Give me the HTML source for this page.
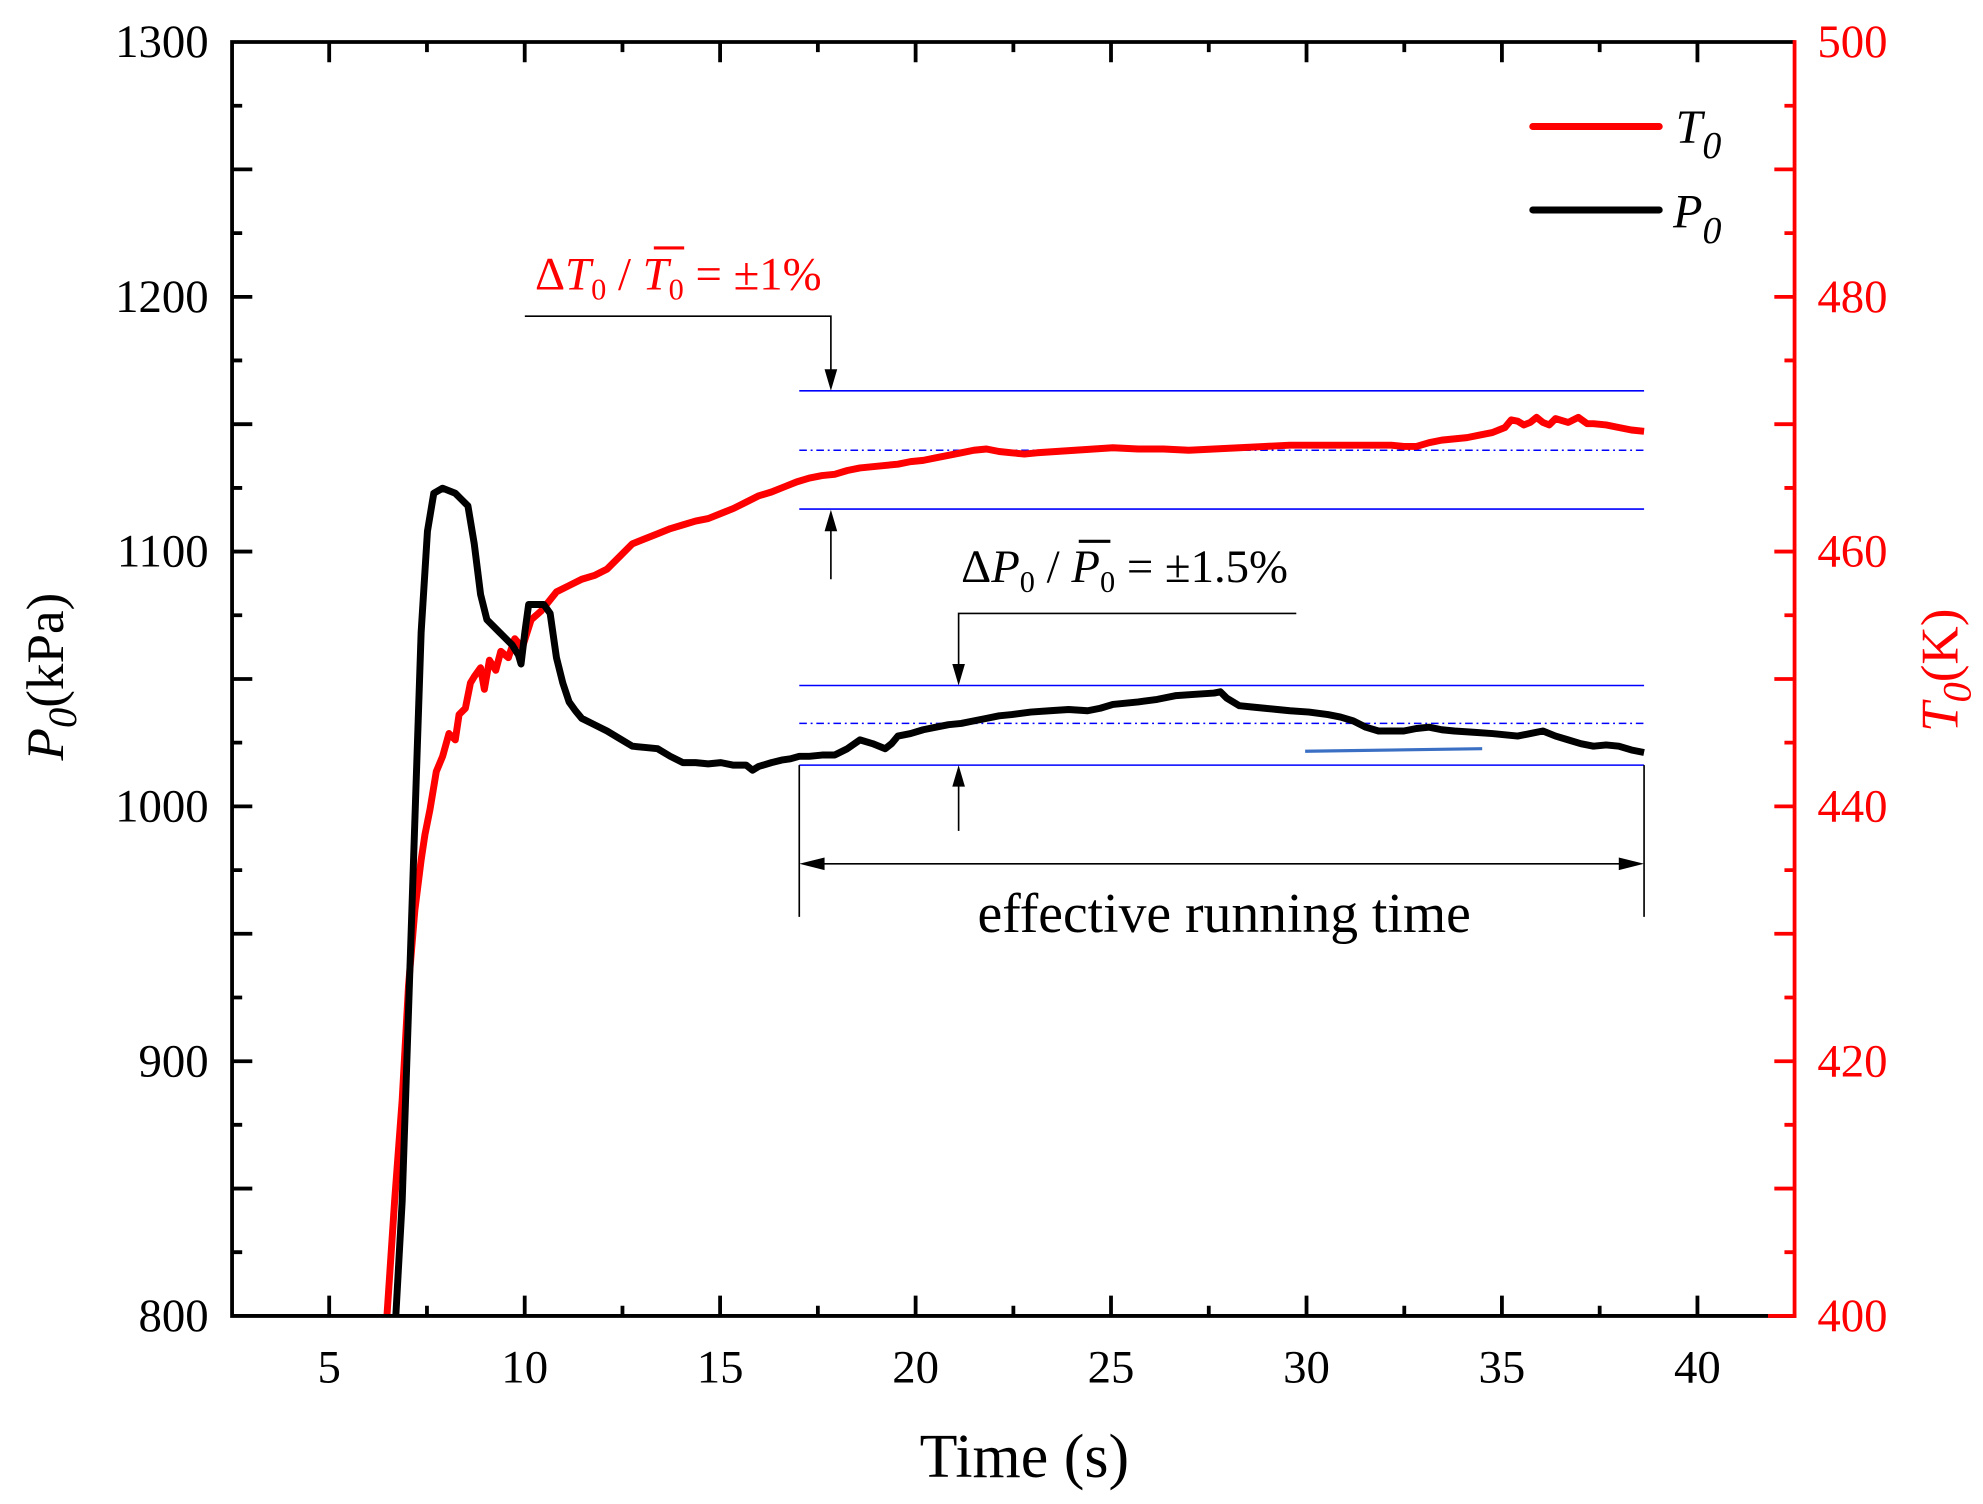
<!DOCTYPE html>
<html><head><meta charset="utf-8"><style>html,body{margin:0;padding:0;background:#fff}svg{display:block}</style></head>
<body>
<svg width="1983" height="1504" viewBox="0 0 1568 1189.2" xmlns="http://www.w3.org/2000/svg" font-family="Liberation Serif, serif">
<path fill="none" stroke="#000" stroke-width="3" d="
M260.3,1040.5v-16 M414.9,1040.5v-16 M569.4,1040.5v-16 M724,1040.5v-16 M878.5,1040.5v-16 M1033.1,1040.5v-16 M1187.6,1040.5v-16 M1342.2,1040.5v-16
M337.6,1040.5v-8 M492.2,1040.5v-8 M646.7,1040.5v-8 M801.3,1040.5v-8 M955.8,1040.5v-8 M1110.4,1040.5v-8 M1264.9,1040.5v-8
M260.3,33.2v16 M414.9,33.2v16 M569.4,33.2v16 M724,33.2v16 M878.5,33.2v16 M1033.1,33.2v16 M1187.6,33.2v16 M1342.2,33.2v16
M337.6,33.2v8 M492.2,33.2v8 M646.7,33.2v8 M801.3,33.2v8 M955.8,33.2v8 M1110.4,33.2v8 M1264.9,33.2v8
M183.5,939.8h16 M183.5,839.1h16 M183.5,738.3h16 M183.5,637.6h16 M183.5,536.9h16 M183.5,436.1h16 M183.5,335.4h16 M183.5,234.7h16 M183.5,133.9h16
M183.5,990.1h8 M183.5,889.4h8 M183.5,788.7h8 M183.5,688h8 M183.5,587.2h8 M183.5,486.5h8 M183.5,385.8h8 M183.5,285h8 M183.5,184.3h8 M183.5,83.6h8"/>
<path fill="none" stroke="#ff0000" stroke-width="3" d="
M1419,939.8h-16 M1419,839.1h-16 M1419,738.3h-16 M1419,637.6h-16 M1419,536.9h-16 M1419,436.1h-16 M1419,335.4h-16 M1419,234.7h-16 M1419,133.9h-16
M1419,990.1h-8 M1419,889.4h-8 M1419,788.7h-8 M1419,688h-8 M1419,587.2h-8 M1419,486.5h-8 M1419,385.8h-8 M1419,285h-8 M1419,184.3h-8 M1419,83.6h-8"/>
<g font-size="37" text-anchor="middle">
<text x="260.3" y="1093">5</text><text x="414.9" y="1093">10</text><text x="569.4" y="1093">15</text><text x="724" y="1093">20</text><text x="878.5" y="1093">25</text><text x="1033.1" y="1093">30</text><text x="1187.6" y="1093">35</text><text x="1342.2" y="1093">40</text>
</g>
<g font-size="37" text-anchor="end">
<text x="165" y="1052.5">800</text><text x="165" y="851.1">900</text><text x="165" y="649.6">1000</text><text x="165" y="448.1">1100</text><text x="165" y="246.7">1200</text><text x="165" y="45.2">1300</text>
</g>
<g font-size="37" fill="#ff0000">
<text x="1437" y="1052.5">400</text><text x="1437" y="851.1">420</text><text x="1437" y="649.6">440</text><text x="1437" y="448.1">460</text><text x="1437" y="246.7">480</text><text x="1437" y="45.2">500</text>
</g>
<g stroke="#0000ff" stroke-width="1.2">
<line x1="632" y1="309" x2="1300" y2="309"/>
<line x1="632" y1="356" x2="1300" y2="356" stroke-dasharray="6,3,1.5,3"/>
<line x1="632" y1="402.5" x2="1300" y2="402.5"/>
<line x1="632" y1="542" x2="1300" y2="542"/>
<line x1="632" y1="572" x2="1300" y2="572" stroke-dasharray="6,3,1.5,3"/>
<line x1="632" y1="605" x2="1300" y2="605"/>
</g>
<line x1="1032" y1="594" x2="1172" y2="592" stroke="#3a6fc4" stroke-width="2.5"/>
<polyline fill="none" stroke="#ff0000" stroke-width="5.5" stroke-linejoin="round" points="306,1040 312,950 318,870 323,780 328,720 333,680 336,660 340,640 343,622 345,610 350,598 355,580 360,585 363,565 368,560 372,540 375,535 380,528 383,545 387,522 392,530 396,515 402,520 407,505 413,512 420,490 428,483 440,468 450,463 460,458 470,455 480,450 490,440 500,430 510,426 520,422 530,418 540,415 550,412 560,410 570,406 580,402 590,397 600,392 610,389 620,385 630,381 640,378 650,376 660,375 670,372 680,370 690,369 700,368 710,367 720,365 730,364 740,362 750,360 760,358 770,356 780,355 790,357 800,358 810,359 820,358 835,357 850,356 865,355 880,354 900,355 920,355 940,356 960,355 980,354 1000,353 1020,352 1040,352 1060,352 1080,352 1100,352 1110,353 1120,353 1130,350 1140,348 1150,347 1160,346 1170,344 1180,342 1190,338 1195,332 1200,333 1205,336 1210,334 1215,330 1220,334 1225,336 1230,331 1240,334 1248,330 1255,335 1260,335 1270,336 1280,338 1290,340 1300,341"/>
<polyline fill="none" stroke="#000" stroke-width="5.5" stroke-linejoin="round" points="313,1040 318,950 323,800 328,650 333,500 338,420 343,390 350,386 360,390 365,395 370,400 375,430 380,470 385,490 395,500 400,505 405,510 410,518 412,525 415,500 418,478 430,478 435,485 440,520 445,540 450,555 455,562 460,568 470,573 480,578 490,584 500,590 510,591 520,592 530,598 540,603 550,603 560,604 570,603 580,605 590,605 595,609 600,606 610,603 618,601 625,600 632,598 640,598 650,597 660,597 670,592 680,585 690,588 700,592 705,588 710,582 720,580 730,577 740,575 750,573 760,572 770,570 780,568 790,566 800,565 815,563 830,562 845,561 860,562 870,560 880,557 890,556 900,555 915,553 930,550 945,549 960,548 965,547 970,552 980,558 990,559 1000,560 1010,561 1020,562 1035,563 1050,565 1060,567 1070,570 1080,575 1090,578 1100,578 1110,578 1120,576 1130,575 1140,577 1150,578 1165,579 1180,580 1190,581 1200,582 1210,580 1220,578 1230,582 1240,585 1250,588 1260,590 1270,589 1280,590 1290,593 1300,595"/>
<g stroke="#000" stroke-width="1.3" fill="none">
<polyline points="415,250 657,250 657,298"/>
<line x1="657" y1="458" x2="657" y2="414"/>
<polyline points="1025,485 758,485 758,531"/>
<line x1="758" y1="657" x2="758" y2="616"/>
<line x1="632" y1="605" x2="632" y2="725"/>
<line x1="1300" y1="605" x2="1300" y2="725"/>
<line x1="645" y1="683" x2="1288" y2="683"/>
</g>
<g fill="#000">
<polygon points="652,292 662,292 657,309"/>
<polygon points="652,420 662,420 657,403"/>
<polygon points="753,525 763,525 758,542"/>
<polygon points="753,622 763,622 758,605"/>
<polygon points="632,683 652,678 652,688"/>
<polygon points="1300,683 1280,678 1280,688"/>
</g>
<text x="968" y="737" font-size="44" text-anchor="middle">effective running time</text>
<text x="423" y="229" font-size="37" fill="#ff0000">Δ<tspan font-style="italic">T</tspan><tspan font-size="24" dy="8">0</tspan><tspan dy="-8"> / </tspan><tspan font-style="italic">T</tspan><tspan font-size="24" dy="8">0</tspan><tspan dy="-8"> = ±1%</tspan></text>
<line x1="517" y1="196" x2="541" y2="196" stroke="#ff0000" stroke-width="2.5"/>
<text x="760" y="460" font-size="37" fill="#000">Δ<tspan font-style="italic">P</tspan><tspan font-size="24" dy="8">0</tspan><tspan dy="-8"> / </tspan><tspan font-style="italic">P</tspan><tspan font-size="24" dy="8">0</tspan><tspan dy="-8"> = ±1.5%</tspan></text>
<line x1="853" y1="428" x2="878" y2="428" stroke="#000" stroke-width="2.5"/>
<line x1="1212" y1="100" x2="1312" y2="100" stroke="#ff0000" stroke-width="5.5" stroke-linecap="round"/>
<text x="1325" y="113" font-size="38" font-style="italic">T<tspan font-size="30" dy="12">0</tspan></text>
<line x1="1212" y1="166" x2="1312" y2="166" stroke="#000" stroke-width="5.5" stroke-linecap="round"/>
<text x="1323" y="180" font-size="38" font-style="italic">P<tspan font-size="30" dy="12">0</tspan></text>
<polyline points="1419,33.2 183.5,33.2 183.5,1040.5 1419,1040.5" fill="none" stroke="#000" stroke-width="3"/>
<line x1="1419" y1="31.7" x2="1419" y2="1042" stroke="#ff0000" stroke-width="3"/>
<line x1="1398" y1="1040.5" x2="1420.5" y2="1040.5" stroke="#ff0000" stroke-width="3"/>
<text x="810" y="1168" font-size="49" text-anchor="middle">Time (s)</text>
<text transform="translate(50,535) rotate(-90)" font-size="42" text-anchor="middle"><tspan font-style="italic">P</tspan><tspan font-style="italic" font-size="32" dy="10">0</tspan><tspan dy="-10">(kPa)</tspan></text>
<text transform="translate(1548,530) rotate(-90)" font-size="42" text-anchor="middle" fill="#ff0000"><tspan font-style="italic">T</tspan><tspan font-style="italic" font-size="32" dy="10">0</tspan><tspan dy="-10">(K)</tspan></text>
</svg>
</body></html>
